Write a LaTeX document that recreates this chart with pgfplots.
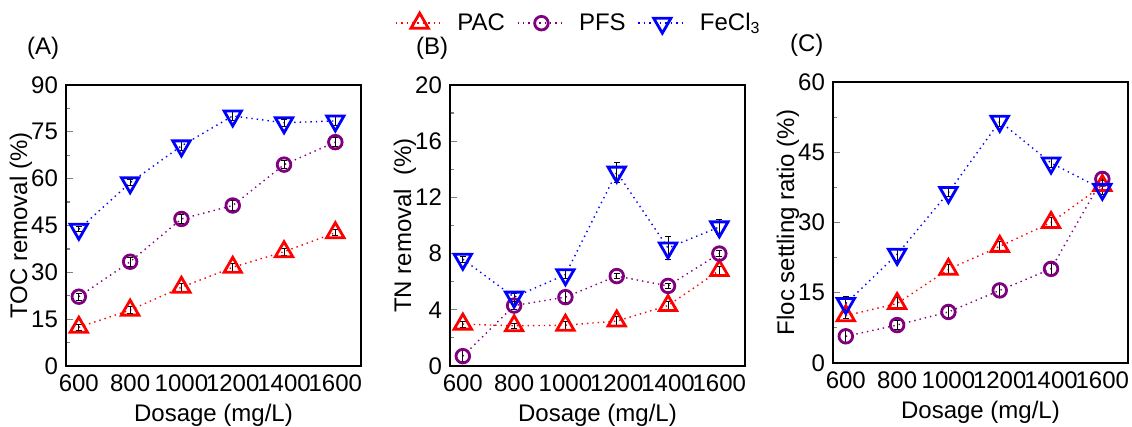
\documentclass[border=0pt]{standalone}
\usepackage{fontspec}
\setmainfont{Liberation Sans}
\usepackage{pgfplots}
\pgfplotsset{compat=1.18}

\definecolor{pacred}{RGB}{255,0,0}
\definecolor{pfspurple}{RGB}{128,0,128}
\definecolor{feblue}{RGB}{0,0,255}

\pgfplotsset{
  panel/.style={
    width=147.5pt, height=140.5pt, scale only axis,
    xmin=550, xmax=1700, xtick={600,800,...,1600},
    tick align=inside, tick pos=left, xtick style={draw=none},
    minor y tick num=1, major tick length=3.5pt, minor tick length=2pt,
    axis line style={line width=1pt}, ytick style={line width=0.6pt},
    /pgf/number format/assume math mode=true,
    /pgf/number format/1000 sep={},
    scaled ticks=false,
    tick label style={font=\fontsize{12}{14}\selectfont},
    x tick label style={yshift=-1pt},
    y tick label style={xshift=-0.5pt},
    every axis y label/.style={at={(rel axis cs:0,0.5)}, xshift=-22.5pt, rotate=90, anchor=center, font=\fontsize{12}{14}\selectfont},
    every axis x label/.style={at={(rel axis cs:0.5,0)}, yshift=-24.5pt, anchor=center, font=\fontsize{12}{14}\selectfont},
    title style={at={(rel axis cs:0,1)}, anchor=west, font=\fontsize{12}{14}\selectfont},
    error bars/y dir=both, error bars/y explicit,
    error bars/error bar style={black, line width=0.4pt, solid},
    error bars/error mark options={rotate=90, mark size=1.5pt, black, line width=0.4pt},
  },
  pac/.style={pacred, dotted, line width=0.7pt, mark=triangle, mark size=5pt, mark options={solid, line width=1.4pt}},
  pfs/.style={pfspurple, dotted, line width=0.7pt, mark=o, mark size=3.4pt, mark options={solid, line width=1.4pt}},
  fecl/.style={feblue, dotted, line width=0.7pt, mark=triangle, mark size=5pt, mark options={solid, rotate=180, line width=1.4pt}},
}

\begin{document}
\begin{tikzpicture}
% (A) TOC removal
\begin{axis}[panel, at={(0pt,0pt)}, ymin=0, ymax=90, ytick={0,15,...,90},
  ylabel={TOC removal (\%)}, xlabel={Dosage (mg/L)},
  title={(A)}, title style={xshift=-23pt, yshift=12.5pt}]
\addplot[pac] coordinates {(600,12.4)+-(0,1.0) (800,17.9)+-(0,1.2) (1000,25.2)+-(0,1.2) (1200,31.6)+-(0,1.2) (1400,36.6)+-(0,1.2) (1600,42.7)+-(0,1.0)};
\addplot[pfs] coordinates {(600,22.2)+-(0,1.2) (800,33.4)+-(0,1.5) (1000,47.1)+-(0,1.5) (1200,51.4)+-(0,1.5) (1400,64.5)+-(0,1.2) (1600,71.7)+-(0,1.5)};
\addplot[fecl] coordinates {(600,43.8)+-(0,0.8) (800,58.7)+-(0,1.0) (1000,70.5)+-(0,1.5) (1200,80.1)+-(0,1.5) (1400,77.9)+-(0,1.2) (1600,78.5)+-(0,1.5)};
\end{axis}
% (B) TN removal
\begin{axis}[panel, at={(192pt,0pt)}, ymin=0, ymax=20, ytick={0,4,...,20},
  ylabel={TN removal \ (\%)}, xlabel={Dosage (mg/L)},
  title={(B)}, title style={xshift=-20.5pt, yshift=12.5pt},
  legend style={at={(rel axis cs:0.44,1.22)}, anchor=center, draw=none, fill=none,
    font=\fontsize{12}{14}\selectfont, legend columns=3,
    /tikz/every odd column/.append style={column sep=4.5pt},
    /tikz/every even column/.append style={column sep=4pt}},
  legend image code/.code={\draw[mark repeat=2, mark phase=2] plot coordinates {(0cm,0cm) (0.42cm,0cm) (0.84cm,0cm)};}]
\addplot[pac] coordinates {(600,2.98)+-(0,0.2) (800,2.86)+-(0,0.2) (1000,2.9)+-(0,0.3) (1200,3.2)+-(0,0.3) (1400,4.3)+-(0,0.3) (1600,6.8)+-(0,0.3)};
\addlegendentry{PAC}
\addplot[pfs] coordinates {(600,0.7)+-(0,0.4) (800,4.3)+-(0,0.3) (1000,4.9)+-(0,0.4) (1200,6.4)+-(0,0.2) (1400,5.7)+-(0,0.2) (1600,8.0)+-(0,0.2)};
\addlegendentry{PFS}
\addplot[fecl] coordinates {(600,7.6)+-(0,0.2) (800,4.9)+-(0,0.3) (1000,6.5)+-(0,0.3) (1200,13.8)+-(0,0.7) (1400,8.4)+-(0,0.8) (1600,9.9)+-(0,0.5)};
\addlegendentry{FeCl\textsubscript{3}}
\end{axis}
% (C) Floc settling ratio
\begin{axis}[panel, at={(383.5pt,1.5pt)}, ymin=0, ymax=60, ytick={0,15,...,60},
  ylabel={Floc settling ratio (\%)}, xlabel={Dosage (mg/L)},
  title={(C)}, title style={xshift=-25pt, yshift=12.5pt}]
\addplot[pac] coordinates {(600,10.1)+-(0,0.6) (800,12.7)+-(0,1.2) (1000,20.0)+-(0,1.0) (1200,24.9)+-(0,1.0) (1400,30.0)+-(0,1.0) (1600,37.9)+-(0,1.0)};
\addplot[pfs] coordinates {(600,5.7)+-(0,1.2) (800,8.1)+-(0,1.0) (1000,10.9)+-(0,1.2) (1200,15.5)+-(0,1.5) (1400,20.1)+-(0,1.2) (1600,39.3)+-(0,1.2)};
\addplot[fecl] coordinates {(600,12.7)+-(0,1.5) (800,23.2)+-(0,1.2) (1000,36.4)+-(0,0.8) (1200,51.6)+-(0,1.0) (1400,42.7)+-(0,1.0) (1600,37.1)+-(0,1.2)};
\end{axis}
\pgfresetboundingbox
\path[use as bounding box] (-33pt,-30.5pt) rectangle (533pt,183pt);
\end{tikzpicture}
\end{document}
